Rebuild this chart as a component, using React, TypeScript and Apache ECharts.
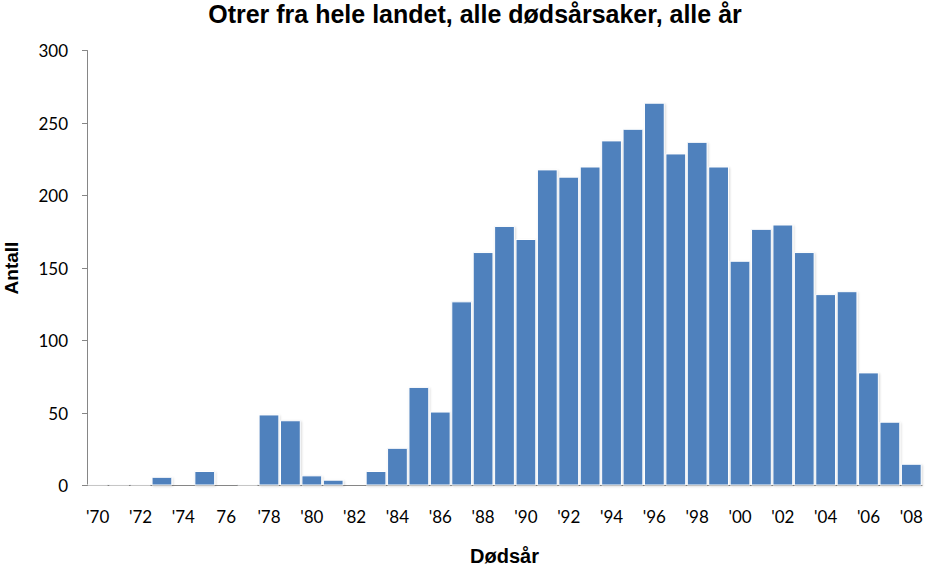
import React, { useEffect, useRef } from "react";
import * as echarts from "echarts";

const years: string[] = [
  "'70", "'71", "'72", "'73", "'74", "'75", "76", "'77", "'78", "'79",
  "'80", "'81", "'82", "'83", "'84", "'85", "'86", "'87", "'88", "'89",
  "'90", "'91", "'92", "'93", "'94", "'95", "'96", "'97", "'98", "'99",
  "'00", "'01", "'02", "'03", "'04", "'05", "'06", "'07", "'08",
];

const counts: number[] = [
  1, 1, 1, 6, 0, 10, 0, 1, 49, 45,
  7, 4, 0, 10, 26, 68, 51, 127, 161, 179,
  170, 218, 213, 220, 238, 246, 264, 229, 237, 220,
  155, 177, 180, 161, 132, 134, 78, 44, 15,
];

const yTicks = { min: 0, max: 300, interval: 50 };

const titleText = "Otrer fra hele landet, alle dødsårsaker, alle år";
const xName = "Dødsår";
const yName = "Antall";

export default function App() {
  const ref = useRef<HTMLDivElement>(null);

  useEffect(() => {
    document.body.style.margin = "0";
    if (!ref.current) return;
    const chart = echarts.init(ref.current, null, { renderer: "svg" });
    chart.setOption({
      animation: false,
      backgroundColor: "#ffffff",
      title: {
        text: titleText,
        left: 475,
        textAlign: "center",
        top: 1,
        padding: 0,
        textStyle: {
          fontFamily: "Liberation Sans",
          fontWeight: "bold",
          fontSize: 25,
          color: "#000000",
        },
      },
      grid: {
        left: 87,
        right: 5,
        top: 50.5,
        bottom: 79.5,
        containLabel: false,
        outerBoundsMode: "none",
      },
      xAxis: {
        type: "category",
        data: years,
        name: xName,
        nameLocation: "middle",
        nameGap: 60,
        nameTextStyle: {
          fontFamily: "Liberation Sans",
          fontWeight: "bold",
          fontSize: 20,
          color: "#000000",
        },
        axisLine: { show: true, lineStyle: { color: "#868686", width: 1 } },
        axisTick: { show: false },
        axisLabel: {
          interval: 1,
          margin: 22,
          fontFamily: "Lato",
          fontSize: 17,
          color: "#000000",
        },
        splitLine: { show: false },
      },
      yAxis: {
        type: "value",
        min: yTicks.min,
        max: yTicks.max,
        interval: yTicks.interval,
        name: yName,
        nameLocation: "middle",
        nameGap: 66,
        nameRotate: 90,
        nameTextStyle: {
          fontFamily: "Liberation Sans",
          fontWeight: "bold",
          fontSize: 19,
          color: "#000000",
        },
        axisLine: { show: true, lineStyle: { color: "#868686", width: 1 } },
        axisTick: { show: true, inside: false, length: 5, lineStyle: { color: "#868686" } },
        axisLabel: {
          margin: 19,
          fontFamily: "Lato",
          fontSize: 17,
          color: "#000000",
        },
        splitLine: { show: false },
      },
      series: [
        {
          type: "bar",
          data: counts,
          barCategoryGap: "3%",
          itemStyle: {
            color: "#4F81BD",
            borderColor: "#ffffff",
            borderWidth: 1,
            shadowColor: "rgba(0,0,0,0.15)",
            shadowBlur: 2,
            shadowOffsetX: 1,
            shadowOffsetY: 1,
          },
        },
      ],
    });
    return () => chart.dispose();
  }, []);

  return <div ref={ref} style={{ width: 927, height: 565 }} />;
}
